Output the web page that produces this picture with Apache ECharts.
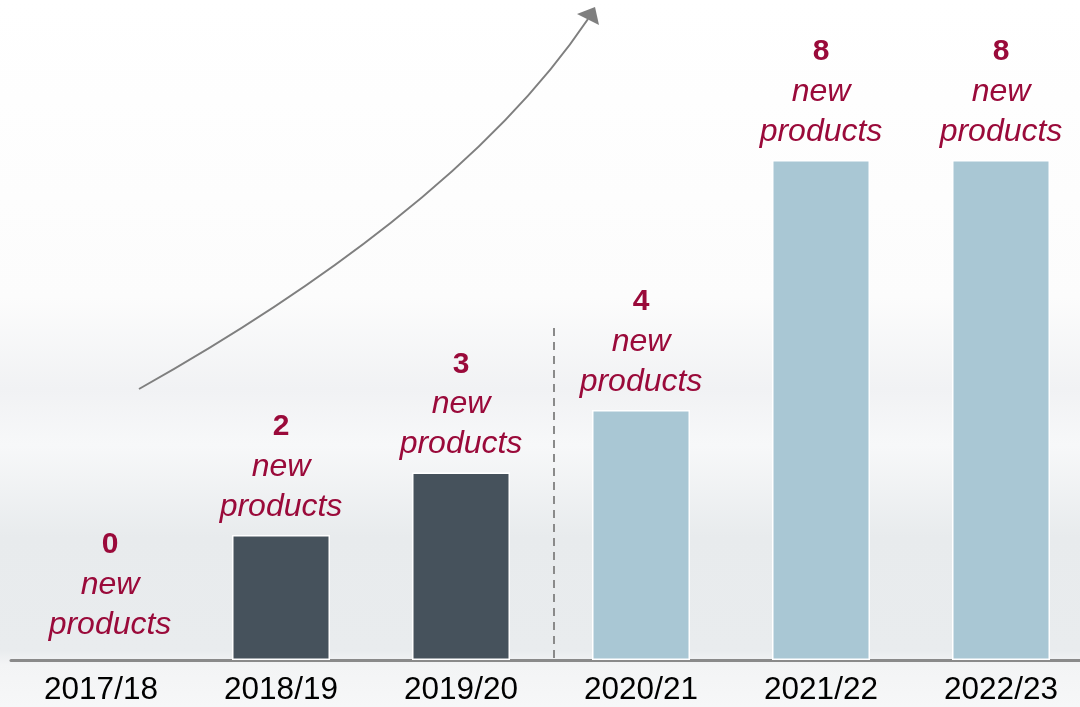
<!DOCTYPE html>
<html>
<head>
<meta charset="utf-8">
<style>
  html, body { margin: 0; padding: 0; }
  #chart { width: 1080px; height: 707px; }
</style>
<script src="https://cdn.jsdelivr.net/npm/echarts@6/dist/echarts.min.js"></script>
</head>
<body>
<div id="chart"></div>
<script>
const years = ['2017/18', '2018/19', '2019/20', '2020/21', '2021/22', '2022/23']
const newProducts = [0, 2, 3, 4, 8, 8]
// first three are actuals, the rest planned
const isPlanned = [false, false, false, true, true, true]

const darkBar = '#46525c'
const lightBar = '#a9c7d4'
const labelRed = '#9a0a3a'
const font = 'Liberation Sans, Arial, sans-serif'

const chart = echarts.init(document.getElementById('chart'))

chart.setOption({
  backgroundColor: {
    type: 'linear', x: 0, y: 0, x2: 0, y2: 1,
    colorStops: [
      { offset: 0, color: '#ffffff' },
      { offset: 0.42, color: '#fcfcfc' },
      { offset: 0.55, color: '#f1f2f4' },
      { offset: 0.63, color: '#f7f8f9' },
      { offset: 0.76, color: '#e8ebed' },
      { offset: 0.92, color: '#e9ecee' },
      { offset: 0.94, color: '#f3f4f5' },
      { offset: 1, color: '#f6f7f8' },
    ],
  },
  animation: false,
  grid: { left: 11, width: 1080, top: 35, bottom: 47, outerBoundsMode: 'none' },
  xAxis: {
    type: 'category',
    data: years,
    axisLine: { lineStyle: { color: '#8a8a8a', width: 3 } },
    axisTick: { show: false },
    axisLabel: { color: '#000', fontFamily: font, fontSize: 31.5, margin: 14 },
  },
  yAxis: { type: 'value', min: 0, max: 10, show: false, splitLine: { show: false } },
  series: [{
    type: 'bar',
    barWidth: 98,
    data: newProducts.map((v, i) => ({
      value: v,
      itemStyle: {
        color: isPlanned[i] ? lightBar : darkBar,
        borderWidth: v === 0 ? 0 : 1.5,
      },
      label: v === 0 ? { offset: [9, -7] } : undefined,
    })),
    itemStyle: { borderColor: '#ffffff' },
    label: {
      show: true,
      position: 'top',
      distance: 8,
      align: 'center',
      fontFamily: font,
      formatter: p => '{num|' + p.value + '}\n{txt|new}\n{txt|products}',
      rich: {
        num: { color: labelRed, fontFamily: font, fontSize: 30, fontWeight: 'bold', lineHeight: 40, align: 'center' },
        txt: { color: labelRed, fontFamily: font, fontSize: 32, fontStyle: 'italic', lineHeight: 40, align: 'center' },
      },
    },
  }],
  graphic: [
    {
      type: 'line',
      shape: { x1: 554, y1: 328, x2: 554, y2: 658 },
      style: { stroke: '#8a8a8a', lineWidth: 2, lineDash: [8, 6] },
      z: 5,
    },
    {
      type: 'bezierCurve',
      shape: { x1: 139, y1: 389, cpx1: 310, cpy1: 293, cpx2: 490, cpy2: 165, x2: 588, y2: 19 },
      style: { stroke: '#7f7f7f', lineWidth: 2, fill: null },
      z: 5,
    },
    {
      type: 'polygon',
      shape: { points: [[595, 7], [577, 14], [599, 25]] },
      style: { fill: '#7f7f7f' },
      z: 5,
    },
  ],
})
</script>
</body>
</html>
